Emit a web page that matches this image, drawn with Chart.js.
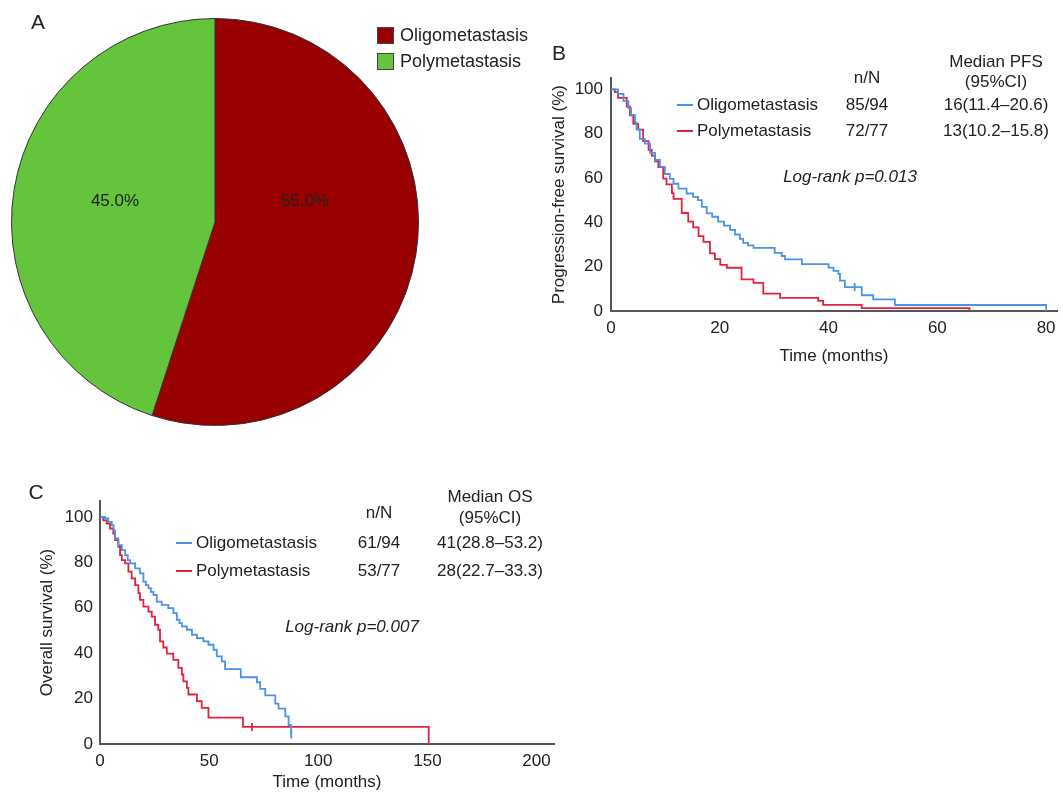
<!DOCTYPE html>
<html>
<head>
<meta charset="utf-8">
<script src="https://cdn.jsdelivr.net/npm/chart.js@4.4.1/dist/chart.umd.min.js"></script>
<style>
    body { margin: 0; background: #fff; }
    #page { position: relative; width: 1063px; height: 794px; overflow: hidden; font-family: 'Liberation Sans', Arial, sans-serif; color: #222; }
    canvas { position: absolute; }
    .txt { position: absolute; white-space: nowrap; font-size: 17px; line-height: 20px; transform: translate(-50%, -50%); }
    .lft { transform: translate(0, -50%); }
    .letter { font-size: 21px; }
    .swatch { position: absolute; width: 15px; height: 15px; border: 1px solid #444; }
    .sample { position: absolute; width: 16px; height: 2px; }
</style>
</head>
<body>
<div id="page">
    <canvas id="pieChart" width="440" height="440" style="left:0;top:0"></canvas>
    <canvas id="pfsChart" width="523" height="320" style="left:540px;top:60px"></canvas>
    <canvas id="osChart" width="560" height="314" style="left:0;top:480px"></canvas>
    <div id="labels"></div>
</div>

<script>
// ---- data ----
const groupNames = ['Oligometastasis', 'Polymetastasis'];
const piePercent = [55.0, 45.0];

const survTicks = [0, 20, 40, 60, 80, 100];
const pfsTimeTicks = [0, 20, 40, 60, 80];
const osTimeTicks = [0, 50, 100, 150, 200];

// PFS (panel B), months / survival %
const pfsOligoTime = [0, 1.3, 2.3, 3.2, 3.7, 4.4, 4.7, 5.3, 6.2, 7.2, 8.1, 9.0, 9.9, 10.8, 11.5, 12.4, 13.9, 15.1, 16.0, 16.7, 17.6, 18.6, 19.7, 20.8, 21.9, 22.8, 23.7, 24.3, 25.2, 26.2, 30.1, 31.4, 32.0, 35.1, 40.0, 40.9, 41.8, 42.1, 43.0, 46.1, 48.2, 52.2, 80.0];
const pfsOligoSurv = [100, 97.9, 94.7, 91.5, 88.3, 85.1, 81.9, 77.7, 75.5, 71.3, 68.1, 65.0, 61.8, 59.6, 57.4, 55.2, 53.0, 51.5, 50.0, 47.0, 44.0, 42.5, 40.3, 38.5, 36.6, 34.5, 32.5, 30.7, 29.6, 28.5, 26.2, 24.8, 23.3, 21.1, 19.6, 18.1, 16.7, 13.7, 10.8, 7.1, 5.2, 2.7, 0];
const pfsPolyTime = [0, 0.7, 1.3, 2.9, 3.5, 4.1, 5.0, 5.9, 6.9, 7.5, 8.1, 8.7, 9.6, 10.2, 11.2, 11.5, 13.0, 14.2, 15.1, 16.1, 17.0, 18.2, 19.1, 20.1, 21.3, 24.0, 26.2, 28.0, 31.1, 38.1, 39.0, 46.1, 65.9];
const pfsPolySurv = [100, 98.7, 96.1, 92.2, 88.3, 84.4, 81.8, 76.6, 72.7, 70.1, 67.5, 64.9, 59.7, 57.1, 53.2, 50.6, 44.2, 40.3, 37.7, 33.8, 31.2, 26.0, 23.4, 20.8, 19.5, 14.3, 12.7, 7.8, 5.9, 4.6, 2.8, 1.3, 0];
const pfsOligoCensor = [[44.8, 10.8]];
const pfsPolyCensor = [];

// OS (panel C)
const osOligoTime = [0, 2.3, 3.8, 5.4, 6.2, 6.9, 8.4, 10.0, 11.5, 12.7, 13.8, 16.1, 18.3, 19.9, 21.0, 22.2, 23.3, 24.5, 26.0, 28.3, 31.3, 33.6, 35.2, 36.4, 37.5, 39.8, 42.1, 44.4, 47.4, 49.7, 52.0, 53.5, 55.8, 57.3, 64.5, 71.9, 73.4, 75.7, 80.3, 81.8, 84.9, 86.4, 87.6];
const osOligoSurv = [100, 99.3, 97.8, 96.4, 94.0, 90.5, 87.6, 85.4, 83.2, 81.0, 79.5, 77.3, 75.1, 71.5, 70.0, 68.6, 67.0, 65.6, 62.7, 61.3, 59.8, 57.6, 54.7, 53.2, 51.8, 50.3, 48.1, 46.6, 45.2, 43.7, 41.5, 38.6, 36.4, 33.0, 29.4, 27.2, 24.3, 21.4, 17.8, 15.6, 12.2, 8.3, 4.2];
const osPolyTime = [0, 1.5, 3.1, 4.6, 6.1, 6.9, 8.4, 9.2, 10.0, 11.5, 13.0, 14.5, 16.1, 17.6, 18.3, 19.9, 22.2, 23.7, 25.2, 26.7, 27.5, 29.0, 30.6, 33.6, 35.9, 37.5, 38.2, 39.8, 40.5, 44.4, 46.6, 49.7, 65.5, 150.6];
const osPolySurv = [100, 98.5, 97.1, 94.9, 92.7, 89.8, 86.8, 83.2, 81.0, 79.5, 75.9, 72.9, 70.0, 66.4, 63.5, 60.5, 58.3, 56.1, 52.5, 50.3, 45.2, 42.5, 39.8, 37.0, 33.5, 30.6, 27.6, 24.7, 21.8, 18.9, 15.9, 11.6, 7.5, 0];
const osOligoCensor = [[87.6, 4.2]];
const osPolyCensor = [[69.6, 7.5]];

const pfsRows = [['85/94', '16(11.4\u201320.6)'], ['72/77', '13(10.2\u201315.8)']];
const osRows = [['61/94', '41(28.8\u201353.2)'], ['53/77', '28(22.7\u201333.3)']];

const BLUE = '#4a93e6';
const RED = '#e2223f';
const FONT = "'Liberation Sans', Arial, sans-serif";
Chart.defaults.font.family = FONT;
Chart.defaults.color = '#222';

function toPoints(times, surv) {
    return times.map((t, i) => ({ x: t, y: surv[i] }));
}

function censorPoints(list) {
    return list.map(p => ({ x: p[0], y: p[1] }));
}

// ---- pie (A) ----
new Chart(document.getElementById('pieChart'), {
    type: 'pie',
    data: {
        labels: groupNames,
        datasets: [{
            data: piePercent,
            backgroundColor: ['#990000', '#64c53c'],
            borderColor: '#333',
            borderWidth: 1
        }]
    },
    options: {
        responsive: false,
        animation: false,
        layout: { padding: { left: 11, top: 17, right: 21, bottom: 13 } },
        plugins: { legend: { display: false }, tooltip: { enabled: false } }
    }
});

// ---- KM charts ----
function createKmChart(canvasId, cfg) {
    const datasets = [
        { data: toPoints(cfg.oligo[0], cfg.oligo[1]), borderColor: BLUE },
        { data: toPoints(cfg.poly[0], cfg.poly[1]), borderColor: RED },
        { data: censorPoints(cfg.oligoCensor), borderColor: BLUE, showLine: false, pointStyle: 'line', rotation: 90, pointRadius: 4 },
        { data: censorPoints(cfg.polyCensor), borderColor: RED, showLine: false, pointStyle: 'line', rotation: 90, pointRadius: 4 }
    ].map(ds => ({
        stepped: true,
        borderWidth: 1.8,
        pointRadius: 0,
        fill: false,
        ...ds
    }));

    const tickFont = { size: 17 };
    new Chart(document.getElementById(canvasId), {
        type: 'line',
        data: { datasets },
        options: {
            responsive: false,
            animation: false,
            layout: { padding: { left: 0, top: cfg.padTop, right: cfg.padRight, bottom: 0 } },
            plugins: { legend: { display: false }, tooltip: { enabled: false } },
            scales: {
                x: {
                    type: 'linear',
                    min: 0,
                    max: cfg.xMax,
                    afterBuildTicks: s => { s.ticks = cfg.xTicks.map(v => ({ value: v })); },
                    afterFit: s => { s.height = cfg.xAxisHeight; },
                    grid: { display: false, drawTicks: false },
                    border: { display: true, color: '#555', width: 2 },
                    ticks: { padding: 7, font: tickFont, maxRotation: 0, autoSkip: false, color: '#222' },
                    title: { display: true, text: 'Time (months)', font: tickFont, color: '#222', padding: { top: 0, bottom: cfg.xTitlePad } }
                },
                y: {
                    type: 'linear',
                    min: 0,
                    max: cfg.yMax,
                    afterBuildTicks: s => { s.ticks = survTicks.map(v => ({ value: v })); },
                    afterFit: s => { s.width = cfg.yAxisWidth; },
                    grid: { display: false, drawTicks: false },
                    border: { display: true, color: '#555', width: 2 },
                    ticks: { padding: cfg.yTickPad, font: tickFont, autoSkip: false, color: '#222' },
                    title: { display: true, text: cfg.yTitle, font: tickFont, color: '#222', padding: { top: cfg.yTitlePad, bottom: 0 } }
                }
            }
        }
    });
}

createKmChart('pfsChart', {
    oligo: [pfsOligoTime, pfsOligoSurv],
    poly: [pfsPolyTime, pfsPolySurv],
    oligoCensor: pfsOligoCensor,
    polyCensor: pfsPolyCensor,
    xTicks: pfsTimeTicks,
    xMax: 82, yMax: 105,
    padTop: 14, padRight: 6,
    xAxisHeight: 69, xTitlePad: 13,
    yAxisWidth: 71, yTickPad: 8, yTitlePad: 9,
    yTitle: 'Progression-free survival (%)'
});

createKmChart('osChart', {
    oligo: [osOligoTime, osOligoSurv],
    poly: [osPolyTime, osPolySurv],
    oligoCensor: osOligoCensor,
    polyCensor: osPolyCensor,
    xTicks: osTimeTicks,
    xMax: 208, yMax: 107,
    padTop: 21, padRight: 6,
    xAxisHeight: 50, xTitlePad: 1,
    yAxisWidth: 100, yTickPad: 7, yTitlePad: 37,
    yTitle: 'Overall survival (%)'
});

// ---- text labels, legends ----
function txt(x, y, text, extra = '', cls = '') {
    return `<div class="txt ${cls}" style="left:${x}px;top:${y}px;${extra}">${text}</div>`;
}

function kmLegend(cfg) {
    let html = txt(cfg.nX, cfg.nY, 'n/N');
    html += txt(cfg.medX, cfg.headY1, cfg.medTitle);
    html += txt(cfg.medX, cfg.headY2, '(95%CI)');
    cfg.rows.forEach((row, i) => {
        const y = cfg.rowY[i];
        const color = i === 0 ? BLUE : RED;
        html += `<div class="sample" style="left:${cfg.lineX}px;top:${y - 1}px;background:${color}"></div>`;
        html += txt(cfg.lineX + 20, y, groupNames[i], '', 'lft');
        html += txt(cfg.nX, y, row[0]);
        html += txt(cfg.medX, y, row[1]);
    });
    html += txt(cfg.pX, cfg.pY, cfg.pText, 'font-style:italic;');
    return html;
}

let labelHtml = '';
labelHtml += txt(38, 22, 'A', '', 'letter');
labelHtml += txt(559, 53, 'B', '', 'letter');
labelHtml += txt(36, 492, 'C', '', 'letter');

labelHtml += txt(305, 201, piePercent[0].toFixed(1) + '%');
labelHtml += txt(115, 201, piePercent[1].toFixed(1) + '%');
labelHtml += `<div class="swatch" style="left:377px;top:27px;background:#990000"></div>`;
labelHtml += `<div class="swatch" style="left:377px;top:53px;background:#64c53c"></div>`;
labelHtml += txt(400, 35, groupNames[0], 'font-size:18px;', 'lft');
labelHtml += txt(400, 61, groupNames[1], 'font-size:18px;', 'lft');

labelHtml += kmLegend({
    nX: 867, nY: 78, medX: 996, headY1: 62, headY2: 82, medTitle: 'Median PFS',
    rows: pfsRows, rowY: [105, 131], lineX: 677,
    pX: 850, pY: 177, pText: 'Log-rank p=0.013'
});
labelHtml += kmLegend({
    nX: 379, nY: 513, medX: 490, headY1: 497, headY2: 518, medTitle: 'Median OS',
    rows: osRows, rowY: [543, 571], lineX: 176,
    pX: 352, pY: 627, pText: 'Log-rank p=0.007'
});

document.getElementById('labels').innerHTML = labelHtml;
</script>
</body>
</html>
